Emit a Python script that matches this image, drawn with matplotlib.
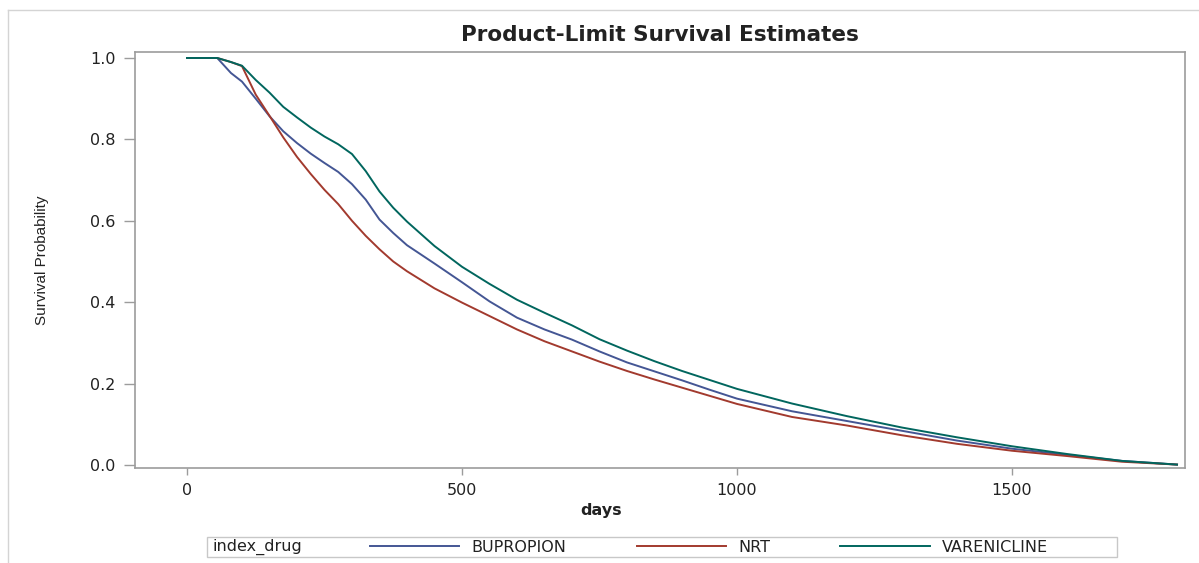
import matplotlib.pyplot as plt
from matplotlib.patches import Rectangle
from matplotlib.lines import Line2D

days = [0, 55, 80, 100, 125, 150, 175, 200, 225, 250, 275, 300, 325, 350, 375, 400,
        450, 500, 550, 600, 650, 700, 750, 800, 850, 900, 950, 1000, 1100, 1200,
        1300, 1400, 1500, 1600, 1700, 1800]

bupropion = [1.0, 1.0, 0.963, 0.942, 0.90, 0.857, 0.82, 0.791, 0.765, 0.742, 0.72, 0.69,
             0.652, 0.603, 0.57, 0.54, 0.495, 0.449, 0.402, 0.362, 0.333, 0.308, 0.279,
             0.252, 0.23, 0.208, 0.185, 0.163, 0.132, 0.108, 0.084, 0.06, 0.04, 0.025,
             0.01, 0.001]

nrt = [1.0, 1.0, 0.99, 0.98, 0.91, 0.858, 0.805, 0.757, 0.715, 0.676, 0.641, 0.60,
       0.563, 0.53, 0.50, 0.476, 0.434, 0.399, 0.366, 0.333, 0.304, 0.279, 0.254,
       0.231, 0.21, 0.19, 0.17, 0.15, 0.118, 0.097, 0.073, 0.052, 0.035, 0.022,
       0.008, 0.001]

varenicline = [1.0, 1.0, 0.99, 0.981, 0.946, 0.915, 0.88, 0.854, 0.829, 0.807, 0.788,
               0.764, 0.722, 0.672, 0.632, 0.598, 0.538, 0.487, 0.445, 0.406, 0.374,
               0.343, 0.309, 0.281, 0.255, 0.231, 0.209, 0.187, 0.151, 0.12, 0.092,
               0.068, 0.046, 0.027, 0.01, 0.001]

groups = ['BUPROPION', 'NRT', 'VARENICLINE']
colors = ['#445694', '#A23A2E', '#01665E']

plt.rcParams['font.family'] = ['DejaVu Sans']
txt = '#222222'
edge = '#9c9c9c'

fig = plt.figure(figsize=(11.99, 5.63), dpi=100)
ax = fig.add_axes([135/1199, 1-468/563, 1050/1199, 416/563])

for vals, name, c in zip([bupropion, nrt, varenicline], groups, colors):
    ax.plot(days, vals, color=c, lw=1.4, label=name)

ax.set_xlim(-94.5, 1814.5)
ax.set_ylim(-0.0074, 1.0147)
ax.set_xticks([0, 500, 1000, 1500])
ax.set_yticks([0, 0.2, 0.4, 0.6, 0.8, 1.0])
ax.set_yticklabels(['0.0', '0.2', '0.4', '0.6', '0.8', '1.0'])
ax.tick_params(axis='y', length=8, width=1, color=edge, pad=6, labelsize=11.5, labelcolor=txt)
ax.tick_params(axis='x', length=5, width=1, color=edge, pad=6, labelsize=11.5, labelcolor=txt)
for s in ax.spines.values():
    s.set_color(edge)
    s.set_linewidth(1.2)

ax.set_title('Product-Limit Survival Estimates', fontsize=15.5, fontweight='bold',
             color=txt, pad=8)
ax.set_ylabel('Survival Probability', fontsize=11, color=txt,
              family=['Liberation Sans Narrow', 'Liberation Sans'])
ax.yaxis.set_label_coords(-0.0886, 0.5)
ax.yaxis.label.set_verticalalignment('center')
ax.set_xlabel('days', fontsize=11.5, fontweight='bold', color=txt)
ax.xaxis.set_label_coords(0.4438, -0.101)
ax.xaxis.label.set_verticalalignment('center')

# legend row: group label, then the three lines
leg_y = 1 - 547/563
fig.patches.append(Rectangle((207/1199, 1-557/563), 910/1199, 20/563,
                             transform=fig.transFigure, fill=False,
                             edgecolor='#c8c8c8', lw=1))
fig.text(213/1199, leg_y, 'index_drug', fontsize=11.5, color=txt, va='center')
h, l = ax.get_legend_handles_labels()
fig.legend(h, l, loc='center left', bbox_to_anchor=(370/1199, leg_y), ncol=3,
           frameon=False, fontsize=11.5, handlelength=5.6, handletextpad=0.75,
           columnspacing=4.4, borderpad=0, borderaxespad=0, labelcolor=txt)

# light outer frame
fig.add_artist(Line2D([8/1199, 8/1199], [0, 1-10/563], color='#d4d4d4', lw=1))
fig.add_artist(Line2D([8/1199, 1], [1-10/563, 1-10/563], color='#d4d4d4', lw=1))

plt.savefig('out.png', dpi=100)
